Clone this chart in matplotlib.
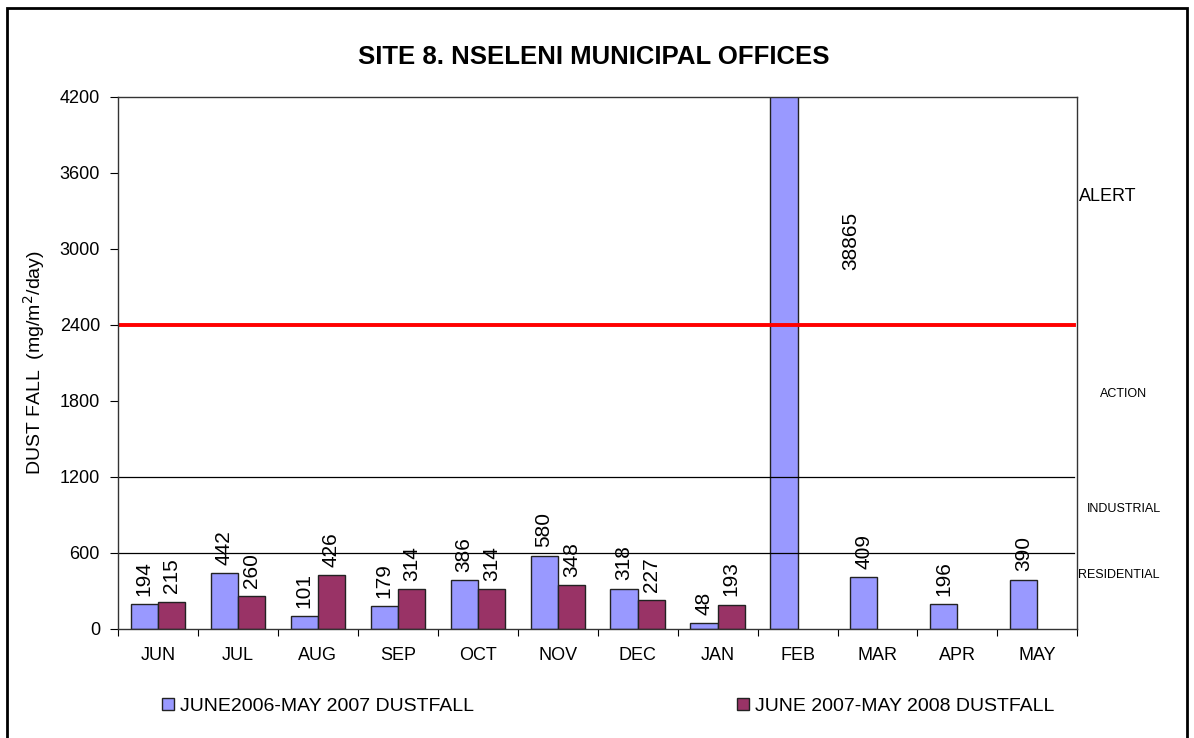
import numpy as np
import matplotlib
matplotlib.use('Agg')
import matplotlib.pyplot as plt
from matplotlib.patches import Rectangle

# data
months = ['JUN', 'JUL', 'AUG', 'SEP', 'OCT', 'NOV', 'DEC', 'JAN', 'FEB', 'MAR', 'APR', 'MAY']
dust_0607 = [194, 442, 101, 179, 386, 580, 318, 48, 38865, 409, 196, 390]
dust_0708 = [215, 260, 426, 314, 314, 348, 227, 193]
label_0607 = 'JUNE2006-MAY 2007 DUSTFALL'
label_0708 = 'JUNE 2007-MAY 2008 DUSTFALL'
limits = {'RESIDENTIAL': 600, 'INDUSTRIAL': 1200, 'ALERT': 2400}

plt.rcParams['font.family'] = ['Liberation Sans', 'DejaVu Sans']

fig = plt.figure(figsize=(11.94, 7.38), dpi=100)
ax = fig.add_axes([0.0988, 0.1477, 0.8035, 0.7209])

x = np.arange(len(months))
w = 0.34
b1 = ax.bar(x - w / 2, dust_0607, w, color='#9999FF', edgecolor='#222222', linewidth=1,
            label=label_0607)
b2 = ax.bar(x[:len(dust_0708)] + w / 2, dust_0708, w, color='#993366', edgecolor='#222222',
            linewidth=1, label=label_0708)

ax.set_ylim(0, 4200)
ax.set_xlim(-0.5, len(months) - 0.5)

# limit lines
ax.axhline(limits['RESIDENTIAL'], color='black', linewidth=0.9, xmax=0.997)
ax.axhline(limits['INDUSTRIAL'], color='black', linewidth=0.9, xmax=0.997)
ax.axhline(limits['ALERT'], color='#FF0000', linewidth=2.8, xmax=0.997)

# value labels
lab1 = [str(v) if v < 4200 else '' for v in dust_0607]
ax.bar_label(b1, labels=lab1, rotation=90, padding=6, fontsize=15)
ax.bar_label(b2, labels=[str(v) for v in dust_0708], rotation=90, padding=6, fontsize=15)
ax.text(8.66, 3060, str(dust_0607[8]), rotation=90, ha='center', va='center', fontsize=15)

# axes styling
ax.set_yticks(np.arange(0, 4201, 600))
ax.tick_params(axis='y', labelsize=13, length=6, direction='out', pad=7)
ax.set_xticks(np.arange(-0.5, len(months), 1))
ax.set_xticklabels([])
ax.set_xticks(x, minor=True)
ax.set_xticklabels(months, minor=True, fontsize=13)
ax.tick_params(axis='x', which='major', length=5, direction='out')
ax.tick_params(axis='x', which='minor', length=0, pad=13)
for s in ax.spines.values():
    s.set_color('#333333')
    s.set_linewidth(1)

ax.set_ylabel('DUST FALL  (mg/m$^2$/day)', fontsize=14, labelpad=9)

fig.text(0.497, 0.923, 'SITE 8. NSELENI MUNICIPAL OFFICES', ha='center', va='center',
         fontsize=18.5, fontweight='bold')

# zone labels on the right
fig.text(0.904, 0.734, 'ALERT', ha='left', va='center', fontsize=13)
fig.text(0.941, 0.466, 'ACTION', ha='center', va='center', fontsize=9)
fig.text(0.941, 0.310, 'INDUSTRIAL', ha='center', va='center', fontsize=9)
fig.text(0.937, 0.221, 'RESIDENTIAL', ha='center', va='center', fontsize=9)

ax.legend(loc='center', bbox_to_anchor=(0.511, -0.145), ncol=2, frameon=False,
          fontsize=14, handlelength=0.62, handleheight=0.62, handletextpad=0.3,
          columnspacing=13.5)

# outer frame
fig.patches.append(Rectangle((0.006, -0.01), 0.988, 0.999, transform=fig.transFigure,
                             fill=False, edgecolor='black', linewidth=2))

plt.savefig('out.png', dpi=100)
